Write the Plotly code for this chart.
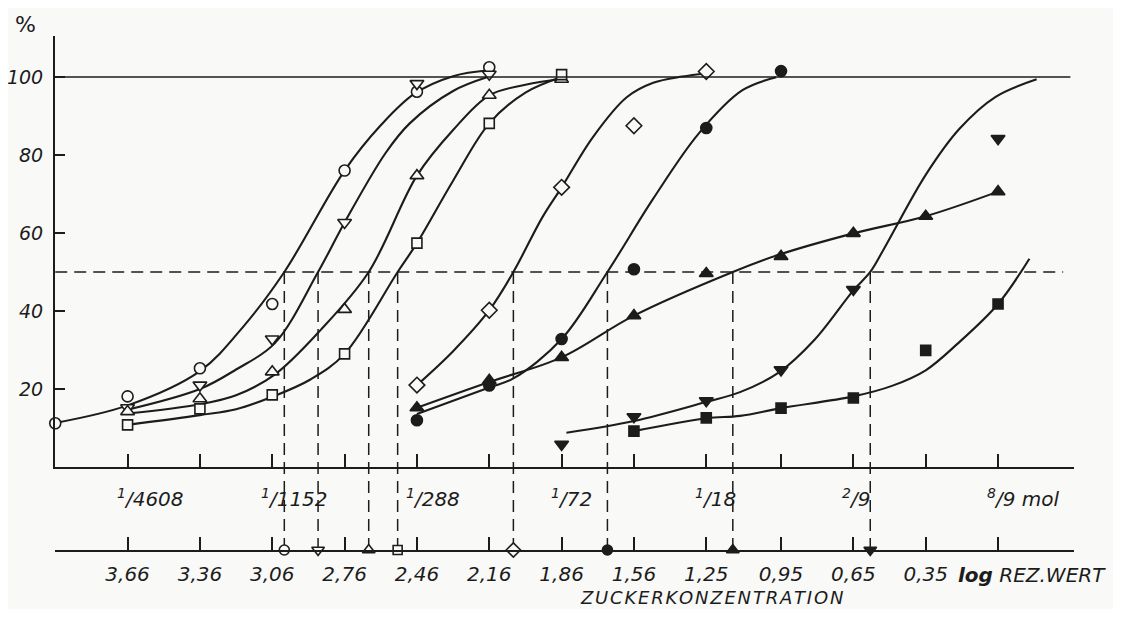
import plotly.graph_objects as go

INK = '#1c1c1c'
BG = '#f9f9f7'
FONT = 'DejaVu Sans'

# ---- axis values -------------------------------------------------------
log_ticks = [3.66, 3.36, 3.06, 2.76, 2.46, 2.16, 1.86, 1.56, 1.26, 0.95, 0.65, 0.35, 0.05]
log_labels = ['3,66', '3,36', '3,06', '2,76', '2,46', '2,16', '1,86', '1,56', '1,25',
              '0,95', '0,65', '0,35', '']
conc_ticks = [3.66, 3.06, 2.46, 1.86, 1.26, 0.65, 0.05]
conc_labels = ['<sup>1</sup>/4608', '<sup>1</sup>/1152', '<sup>1</sup>/288', '<sup>1</sup>/72',
               '<sup>1</sup>/18', '<sup>2</sup>/9', '<sup>8</sup>/9 mol']
y_ticks = [20, 40, 60, 80, 100]
x_range = [3.961, -0.265]
y_range = [0, 110.5]
lower_axis_level = -21.28
full_level = 100
full_line_x = [3.96, -0.25]
half_level = 50
half_line_x = [3.96, -0.22]

# ---- measured points and hand-drawn fitted curves -----------------------
oc_x = [3.96, 3.66, 3.36, 3.06, 2.76, 2.46, 2.16]
oc_y = [11.2, 18.1, 25.3, 41.8, 76.0, 96.2, 102.5]
oc_fx = [3.96, 3.66, 3.36, 3.18, 3.01, 2.76, 2.61, 2.47, 2.31, 2.16]
oc_fy = [11.3, 15.8, 24.6, 36.0, 50.0, 76.0, 87.6, 95.7, 100.2, 101.7]

otd_x = [3.66, 3.36, 3.06, 2.76, 2.46, 2.16]
otd_y = [15.2, 21.0, 32.8, 62.7, 98.3, 100.7]
otd_fx = [3.66, 3.36, 3.21, 3.05, 2.87, 2.76, 2.59, 2.49, 2.31, 2.17]
otd_fy = [14.7, 20.0, 25.0, 31.7, 50.0, 62.7, 80.5, 88.1, 96.4, 99.9]

otu_x = [3.66, 3.36, 3.06, 2.76, 2.46, 2.16, 1.86]
otu_y = [14.2, 17.5, 24.4, 40.4, 74.7, 95.3, 99.4]
otu_fx = [3.66, 3.36, 3.21, 3.05, 2.86, 2.66, 2.46, 2.31, 2.16, 2.01, 1.85]
otu_fy = [13.7, 16.1, 18.4, 23.7, 35.1, 50.0, 74.7, 86.4, 95.3, 98.0, 99.6]

osq_x = [3.66, 3.36, 3.06, 2.76, 2.46, 2.16, 1.86]
osq_y = [10.8, 14.9, 18.5, 29.0, 57.4, 88.1, 100.6]
osq_fx = [3.66, 3.36, 3.21, 3.06, 2.90, 2.76, 2.54, 2.46, 2.31, 2.16, 2.01, 1.86]
osq_fy = [10.8, 13.3, 14.8, 18.0, 22.5, 29.0, 50.0, 57.4, 73.4, 88.1, 96.0, 100.0]

odi_x = [2.46, 2.16, 1.86, 1.56, 1.26]
odi_y = [21.0, 40.2, 71.7, 87.5, 101.4]
odi_fx = [2.46, 2.31, 2.16, 2.06, 1.94, 1.86, 1.73, 1.59, 1.48, 1.36, 1.26]
odi_fy = [21.0, 29.7, 40.2, 50.0, 64.0, 71.7, 84.6, 94.8, 98.5, 100.1, 100.9]

fc_x = [2.46, 2.16, 1.86, 1.56, 1.26, 0.95]
fc_y = [12.0, 20.9, 32.8, 50.7, 86.9, 101.5]
fc_fx = [2.46, 2.16, 2.06, 1.86, 1.67, 1.48, 1.29, 1.11, 0.97]
fc_fy = [13.6, 20.4, 22.7, 32.8, 50.0, 68.8, 85.6, 96.6, 99.9]

ftu_x = [2.46, 2.16, 1.86, 1.56, 1.26, 0.95, 0.65, 0.35, 0.05]
ftu_y = [15.2, 22.2, 28.1, 38.8, 49.6, 54.0, 59.9, 64.3, 70.6]
ftu_fx = [2.46, 2.16, 1.86, 1.56, 1.15, 0.96, 0.65, 0.35, 0.05]
ftu_fy = [15.2, 21.8, 28.1, 38.8, 50.0, 54.4, 59.9, 64.3, 70.6]

ftd_x = [1.86, 1.56, 1.26, 0.95, 0.65, 0.05]
ftd_y = [5.8, 12.9, 17.0, 24.9, 45.5, 84.2]
ftd_fx = [1.84, 1.56, 1.26, 1.12, 0.96, 0.81, 0.65, 0.58, 0.52, 0.35, 0.21, 0.06, -0.11]
ftd_fy = [8.8, 11.8, 16.7, 19.2, 24.2, 32.7, 45.3, 50.0, 56.3, 74.9, 86.7, 94.9, 99.4]

fsq_x = [1.56, 1.26, 0.95, 0.65, 0.35, 0.05]
fsq_y = [9.2, 12.6, 15.1, 17.7, 29.9, 41.8]
fsq_fx = [1.56, 1.26, 1.12, 0.95, 0.65, 0.49, 0.35, 0.22, 0.05, -0.08]
fsq_fy = [9.2, 12.5, 13.1, 15.1, 18.1, 20.8, 24.8, 31.5, 41.8, 53.4]

half_x = [3.01, 2.87, 2.66, 2.54, 2.06, 1.67, 1.15, 0.58]

series = [
    (oc_x, oc_y, oc_fx, oc_fy, 'circle', False, 11),
    (otd_x, otd_y, otd_fx, otd_fy, 'triangle-down', False, 12),
    (otu_x, otu_y, otu_fx, otu_fy, 'triangle-up', False, 12),
    (osq_x, osq_y, osq_fx, osq_fy, 'square', False, 10),
    (odi_x, odi_y, odi_fx, odi_fy, 'diamond', False, 12),
    (fc_x, fc_y, fc_fx, fc_fy, 'circle', True, 11),
    (ftu_x, ftu_y, ftu_fx, ftu_fy, 'triangle-up', True, 12),
    (ftd_x, ftd_y, ftd_fx, ftd_fy, 'triangle-down', True, 12),
    (fsq_x, fsq_y, fsq_fx, fsq_fy, 'square', True, 10),
]

fig = go.Figure()

# reference lines at 100 % and 50 %
fig.add_trace(go.Scatter(x=full_line_x, y=[full_level] * 2, mode='lines', xaxis='x2', yaxis='y',
                         line=dict(color=INK, width=1.6), hoverinfo='skip'))
fig.add_trace(go.Scatter(x=half_line_x, y=[half_level] * 2, mode='lines', xaxis='x2', yaxis='y',
                         line=dict(color=INK, width=1.5, dash='12px,7px'), hoverinfo='skip'))

# vertical dashed lines from the 50 % crossing down to the lower axis
for hx in half_x:
    fig.add_trace(go.Scatter(x=[hx, hx], y=[half_level, lower_axis_level], mode='lines',
                             xaxis='x', yaxis='y2',
                             line=dict(color=INK, width=1.5, dash='12px,7px'), hoverinfo='skip'))

# fitted curves
for sx, sy, fx, fy, sym, filled, size in series:
    fig.add_trace(go.Scatter(x=fx, y=fy, mode='lines', xaxis='x', yaxis='y',
                             line=dict(color=INK, width=2.1, shape='spline', smoothing=1.0),
                             hoverinfo='skip'))

# measured points
for sx, sy, fx, fy, sym, filled, size in series:
    fig.add_trace(go.Scatter(x=sx, y=sy, mode='markers', xaxis='x', yaxis='y', cliponaxis=False,
                             marker=dict(symbol=sym, size=size, color=INK if filled else BG,
                                         line=dict(color=INK, width=1.6))))

# markers on the lower axis
for (sx, sy, fx, fy, sym, filled, size), hx in zip(series, half_x):
    fig.add_trace(go.Scatter(x=[hx], y=[lower_axis_level], mode='markers', xaxis='x', yaxis='y2',
                             cliponaxis=False,
                             marker=dict(symbol=sym, size=size - 1, color=INK if filled else BG,
                                         line=dict(color=INK, width=1.6))))

tick_font = dict(family=FONT, size=20, color=INK, style='italic')

annotations = []
for cx, ct in zip(conc_ticks, conc_labels):
    annotations.append(dict(x=cx, y=0, xref='x', yref='y', text=ct, showarrow=False,
                            xanchor='left', yanchor='middle', xshift=-13, yshift=-31,
                            font=tick_font))
annotations.append(dict(x=0.226, y=lower_axis_level, xref='x', yref='y2',
                        text='<b>log</b> REZ.WERT', showarrow=False, xanchor='left',
                        yanchor='middle', yshift=-25, font=tick_font))
annotations.append(dict(x=0.644, y=-0.093, xref='paper', yref='paper',
                        text='\u200a'.join('ZUCKERKONZENTRATION'), showarrow=False,
                        xanchor='center', yanchor='middle',
                        font=dict(family=FONT, size=18, color=INK, style='italic')))
annotations.append(dict(x=-0.0285, y=1.023, xref='paper', yref='paper', text='%',
                        showarrow=False, xanchor='center', yanchor='middle',
                        font=dict(family=FONT, size=22, color=INK)))

fig.update_layout(
    width=1105, height=601,
    margin=dict(l=47, r=39, t=28, b=59),
    paper_bgcolor=BG, plot_bgcolor='rgba(0,0,0,0)',
    showlegend=False,
    annotations=annotations,
    xaxis=dict(range=x_range, domain=[0, 1], anchor='y2', showline=True, linecolor=INK,
               linewidth=2, ticks='inside', ticklen=13, tickwidth=1.6, tickcolor=INK,
               tickvals=log_ticks, ticktext=log_labels, tickfont=tick_font,
               ticklabelstandoff=5, showgrid=False, zeroline=False, automargin=False),
    xaxis2=dict(overlaying='x', matches='x', anchor='y', showline=True, linecolor=INK,
                linewidth=2, ticks='inside', ticklen=13, tickwidth=1.6, tickcolor=INK,
                tickvals=log_ticks, showticklabels=False, showgrid=False, zeroline=False),
    yaxis=dict(domain=[83 / 514, 1], range=y_range, anchor='x', showline=True, linecolor=INK,
               linewidth=2, ticks='inside', ticklen=10, tickwidth=1.6, tickcolor=INK,
               tickvals=y_ticks, tickfont=dict(family=FONT, size=19, color=INK, style='italic'),
               ticklabelstandoff=6, showgrid=False, zeroline=False, automargin=False),
    yaxis2=dict(domain=[0, 1], range=[lower_axis_level, y_range[1]], anchor='x', visible=False),
)

fig.write_html('out.html')
